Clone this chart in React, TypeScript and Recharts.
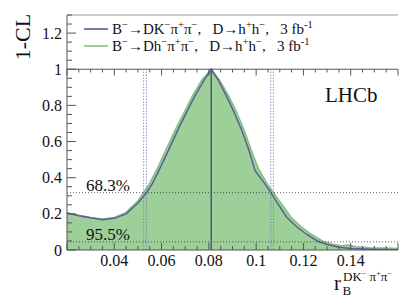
import React from 'react';
import { ComposedChart, Area, Line, XAxis, YAxis, ReferenceLine } from 'recharts';

// r_B values and 1-CL for the DK pi pi combination (blue)
const rBlue = [0.02, 0.025, 0.03, 0.035, 0.04, 0.045, 0.05, 0.0536, 0.056, 0.0588, 0.0625, 0.0671, 0.0705, 0.0742, 0.078, 0.081, 0.084, 0.0875, 0.0904, 0.094, 0.097, 0.0995, 0.1035, 0.1062, 0.11, 0.113, 0.117, 0.121, 0.1258, 0.13, 0.135, 0.14, 0.15, 0.16];
const clBlue = [0.205, 0.19, 0.178, 0.168, 0.175, 0.2, 0.26, 0.317, 0.365, 0.438, 0.54, 0.67, 0.76, 0.855, 0.94, 1.0, 0.94, 0.85, 0.77, 0.66, 0.55, 0.44, 0.37, 0.317, 0.24, 0.18, 0.13, 0.09, 0.05, 0.03, 0.015, 0.008, 0.004, 0.002];
// r_B values and 1-CL for the Dh pi pi combination (green)
const rGreen = [0.02, 0.025, 0.03, 0.035, 0.04, 0.045, 0.05, 0.0524, 0.055, 0.058, 0.0615, 0.066, 0.0695, 0.0732, 0.077, 0.081, 0.0845, 0.0885, 0.0915, 0.095, 0.098, 0.101, 0.1045, 0.1073, 0.111, 0.1148, 0.119, 0.123, 0.128, 0.132, 0.136, 0.139, 0.142, 0.148, 0.155, 0.16];
const clGreen = [0.205, 0.192, 0.18, 0.172, 0.18, 0.208, 0.272, 0.317, 0.37, 0.445, 0.545, 0.67, 0.76, 0.855, 0.94, 1.0, 0.94, 0.85, 0.77, 0.66, 0.55, 0.45, 0.37, 0.317, 0.25, 0.18, 0.13, 0.09, 0.05, 0.033, 0.024, 0.028, 0.018, 0.013, 0.011, 0.008];

const bestFit = 0.081;
const blueInterval = [0.0536, 0.1062];
const greenInterval = [0.0524, 0.1073];
const cl68 = 0.317;
const cl95 = 0.045;

const xMajorTicks = [0.04, 0.06, 0.08, 0.1, 0.12, 0.14];
const xTickLabels = ['0.04', '0.06', '0.08', '0.1', '0.12', '0.14'];
const yMajorTicks = [0, 0.2, 0.4, 0.6, 0.8, 1, 1.2];
const yTickLabels = ['0', '0.2', '0.4', '0.6', '0.8', '1', '1.2'];

const xDomain = [0.02, 0.16];
const yDomain = [0, 1.3];

const xAllTicks: number[] = [];
for (let i = 0; i <= 28; i++) xAllTicks.push(Number((0.02 + 0.005 * i).toFixed(3)));
const yAllTicks: number[] = [];
for (let i = 0; i <= 26; i++) yAllTicks.push(Number((0.05 * i).toFixed(2)));

const rowMap = new Map<number, any>();
rBlue.forEach((r, i) => {
  rowMap.set(r, { ...(rowMap.get(r) || { r }), blue: clBlue[i] });
});
rGreen.forEach((r, i) => {
  rowMap.set(r, { ...(rowMap.get(r) || { r }), green: clGreen[i] });
});
const data = Array.from(rowMap.values()).sort((a, b) => a.r - b.r);

const FONT = "'Liberation Serif', 'DejaVu Serif', serif";
const TS: React.CSSProperties = { fontFamily: FONT };
const AX = '#555';

const isMult = (v: number, step: number) => Math.abs(v / step - Math.round(v / step)) < 1e-6;

function XTick(props: any) {
  const { x, y, payload } = props;
  const v = payload.value;
  const idx = xMajorTicks.findIndex((t) => Math.abs(t - v) < 1e-6);
  const len = isMult(v, 0.02) ? 7 : 4;
  return (
    <g>
      <line x1={x} y1={y} x2={x} y2={y - len} stroke={AX} strokeWidth={1} />
      {idx >= 0 && (
        <text x={x} y={y + 16} textAnchor="middle" fontSize={16} style={TS} fill="#111">
          {xTickLabels[idx]}
        </text>
      )}
    </g>
  );
}

function YTick(props: any) {
  const { x, y, payload } = props;
  const v = payload.value;
  const idx = yMajorTicks.findIndex((t) => Math.abs(t - v) < 1e-6);
  const len = isMult(v, 0.2) ? 9 : 5;
  return (
    <g>
      <line x1={x} y1={y} x2={x + len} y2={y} stroke={AX} strokeWidth={1} />
      {idx >= 0 && (
        <text x={x - 5} y={y + 5.5} textAnchor="end" fontSize={16} style={TS} fill="#111">
          {yTickLabels[idx]}
        </text>
      )}
    </g>
  );
}

function RTick(props: any) {
  const { x, y, payload } = props;
  const v = payload.value;
  const len = isMult(v, 0.2) ? 8 : 4;
  return <line x1={x} y1={y} x2={x - len} y2={y} stroke={AX} strokeWidth={1} />;
}

type Part = [string, 'n' | 'sup' | 'sub'];
function Rich({ x, y, size, parts, supScale = 0.62 }: { x: number; y: number; size: number; parts: Part[]; supScale?: number }) {
  let cur = 0;
  return (
    <text x={x} y={y} fontSize={size} style={TS} fill="#111">
      {parts.map(([t, k], i) => {
        const target = k === 'sup' ? -size * 0.4 : k === 'sub' ? size * 0.25 : 0;
        const dy = target - cur;
        cur = target;
        return (
          <tspan key={i} dy={dy} fontSize={k === 'n' ? size : size * supScale}>
            {t}
          </tspan>
        );
      })}
    </text>
  );
}

const GAP = '\u00a0\u00a0\u00a0';
const legendBlue: Part[] = [['B', 'n'], ['\u2212', 'sup'], ['\u2192DK', 'n'], ['\u2212', 'sup'], ['\u03c0', 'n'], ['+', 'sup'], ['\u03c0', 'n'], ['\u2212', 'sup'], [',' + GAP + 'D\u2192h', 'n'], ['+', 'sup'], ['h', 'n'], ['\u2212', 'sup'], [',' + GAP + '3 fb', 'n'], ['-1', 'sup']];
const legendGreen: Part[] = [['B', 'n'], ['\u2212', 'sup'], ['\u2192Dh', 'n'], ['\u2212', 'sup'], ['\u03c0', 'n'], ['+', 'sup'], ['\u03c0', 'n'], ['\u2212', 'sup'], [',' + GAP + 'D\u2192h', 'n'], ['+', 'sup'], ['h', 'n'], ['\u2212', 'sup'], [',' + GAP + '3 fb', 'n'], ['-1', 'sup']];

const BLUE = '#5d5d9c';
const GREEN_FILL = '#9dcf99';
const GREEN_EDGE = '#84c082';

export default function App() {
  return (
    <div style={{ position: 'absolute', left: 0, top: 0, width: 419, height: 301, background: '#fff', fontFamily: FONT }}>
      <ComposedChart width={419} height={301} data={data} margin={{ top: 15, right: 21, left: 0, bottom: 0 }} style={TS}>
        <XAxis
          dataKey="r"
          type="number"
          domain={xDomain}
          ticks={xAllTicks}
          interval={0}
          allowDataOverflow
          height={51}
          tickSize={0}
          tickMargin={0}
          tickLine={false}
          axisLine={{ stroke: AX }}
          tick={<XTick />}
          label={{
            content: () => (
              <g>
                <text x={334} y={290} fontSize={21} style={TS} fill="#111">r</text>
                <text x={342.5} y={294.5} fontSize={13} style={TS} fill="#111">B</text>
                <Rich x={343} y={281} size={13} parts={[['DK', 'n'], ['\u2212', 'sup'], ['\u00a0\u03c0', 'n'], ['+', 'sup'], ['\u03c0', 'n'], ['\u2212', 'sup']]} />
              </g>
            ),
          }}
        />
        <YAxis
          type="number"
          domain={yDomain}
          ticks={yAllTicks}
          interval={0}
          allowDataOverflow
          width={67}
          tickSize={0}
          tickMargin={0}
          tickLine={false}
          axisLine={{ stroke: AX }}
          tick={<YTick />}
          label={{
            content: () => (
              <text x={30} y={37} transform="rotate(-90 30 37)" textAnchor="middle" fontSize={22} style={TS} fill="#111">
                1-CL
              </text>
            ),
          }}
        />
        <YAxis
          yAxisId="r"
          orientation="right"
          type="number"
          domain={yDomain}
          ticks={yAllTicks}
          interval={0}
          allowDataOverflow
          width={0}
          tickSize={0}
          tickMargin={0}
          tickLine={false}
          axisLine={{ stroke: AX }}
          tick={<RTick />}
        />
        <Area
          dataKey="green"
          type="linear"
          connectNulls
          stroke={GREEN_EDGE}
          strokeWidth={1.5}
          fill={GREEN_FILL}
          fillOpacity={1}
          isAnimationActive={false}
          dot={false}
          activeDot={false}
        />
        <Line
          dataKey="blue"
          type="linear"
          connectNulls
          stroke={BLUE}
          strokeWidth={1.5}
          dot={false}
          activeDot={false}
          isAnimationActive={false}
        />
        <ReferenceLine y={yDomain[1]} stroke="#999" strokeWidth={1} />
        <ReferenceLine y={1} stroke={AX} strokeWidth={1} />
        {xAllTicks.map((v) => (
          <ReferenceLine
            key={'t' + v}
            segment={[{ x: v, y: 1 }, { x: v, y: 1 - (isMult(v, 0.02) ? 0.035 : 0.018) }]}
            stroke={AX}
            strokeWidth={1}
          />
        ))}
        <ReferenceLine
          y={cl68}
          stroke="#333"
          strokeWidth={0.8}
          strokeDasharray="1 2"
          label={{
            content: () => (
              <text x={86} y={191} fontSize={17} style={TS} fill="#111">68.3%</text>
            ),
          }}
        />
        <ReferenceLine
          y={cl95}
          stroke="#333"
          strokeWidth={0.8}
          strokeDasharray="1 2"
          label={{
            content: () => (
              <text x={86} y={240} fontSize={17} style={TS} fill="#111">95.5%</text>
            ),
          }}
        />
        {greenInterval.map((v) => (
          <ReferenceLine key={'g' + v} segment={[{ x: v, y: 0 }, { x: v, y: 1 }]} stroke="#6f8f7a" strokeWidth={0.8} strokeDasharray="1.5 1.5" />
        ))}
        {blueInterval.map((v) => (
          <ReferenceLine key={'b' + v} segment={[{ x: v, y: 0 }, { x: v, y: 1 }]} stroke="#7777bb" strokeWidth={0.8} strokeDasharray="1.5 1.5" />
        ))}
        <ReferenceLine
          segment={[{ x: bestFit, y: 0 }, { x: bestFit, y: 1 }]}
          stroke="#4b5a78"
          strokeWidth={1.5}
          label={{
            content: () => (
              <g>
                <text x={325} y={102} fontSize={21} style={TS} fill="#111">LHCb</text>
                <line x1={84} y1={29} x2={108} y2={29} stroke="#7a7ab0" strokeWidth={2} />
                <Rich x={112} y={34} size={15} supScale={0.7} parts={legendBlue} />
                <line x1={84} y1={46} x2={108} y2={46} stroke={GREEN_FILL} strokeWidth={2} />
                <Rich x={112} y={51} size={15} supScale={0.7} parts={legendGreen} />
              </g>
            ),
          }}
        />
      </ComposedChart>
    </div>
  );
}
